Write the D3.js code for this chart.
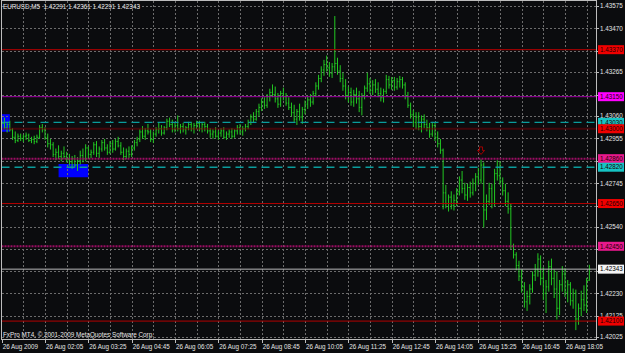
<!DOCTYPE html>
<html>
<head>
<meta charset="utf-8">
<script src="https://cdn.jsdelivr.net/npm/d3@7"></script>
<style>
  html, body { margin: 0; padding: 0; background: #0b0c0e; }
  svg { display: block; font-family: "Liberation Sans", Arial, sans-serif; }
</style>
</head>
<body>
<svg id="chart" width="625" height="353"></svg>
<script>
// MT4 style M5 bar chart, EURUSD 26 Aug 2009

const chartTitle = 'EURUSD,M5  1.42291 1.42361 1.42291 1.42343';
const copyright = 'FxPro MT4, \u00a9 2001-2009 MetaQuotes Software Corp.';

// time axis: label every 16 bars
const timeTickBars = [0, 16, 32, 48, 64, 80, 96, 112, 128, 144, 160, 176, 192, 208];
const timeLabels = ['26 Aug 2009', '26 Aug 02:05', '26 Aug 03:25', '26 Aug 04:45', '26 Aug 06:05',
  '26 Aug 07:25', '26 Aug 08:45', '26 Aug 10:05', '26 Aug 11:25', '26 Aug 12:45',
  '26 Aug 14:05', '26 Aug 15:25', '26 Aug 16:45', '26 Aug 18:05'];

// price axis ticks
const priceTicks = [1.43575, 1.43470, 1.43365, 1.43265, 1.43160, 1.43060, 1.42955, 1.42850,
  1.42745, 1.42640, 1.42540, 1.42435, 1.42335, 1.42230, 1.42125, 1.42025];

// bars (one per 5 minutes)
const opens = [
  1.43010,1.43025,1.43005,1.43020,1.42995,1.42960,1.42945,1.42965,1.42955,1.42965,
  1.42970,1.42945,1.42950,1.42940,1.42960,1.43005,1.42995,1.42960,1.42930,1.42925,
  1.42880,1.42890,1.42870,1.42885,1.42870,1.42855,1.42845,1.42860,1.42830,1.42850,
  1.42875,1.42860,1.42910,1.42880,1.42890,1.42925,1.42885,1.42905,1.42935,1.42910,
  1.42890,1.42930,1.42905,1.42940,1.42920,1.42890,1.42870,1.42895,1.42880,1.42910,
  1.42935,1.42950,1.42985,1.42965,1.42990,1.42985,1.42950,1.42975,1.42995,1.43000,
  1.42980,1.43005,1.43035,1.43020,1.42995,1.43015,1.43000,1.43010,1.42995,1.43005,
  1.43020,1.43000,1.43015,1.43025,1.43000,1.43020,1.43010,1.42990,1.42975,1.42985,
  1.42965,1.42980,1.42990,1.42960,1.42975,1.42985,1.42965,1.42990,1.43005,1.42985,
  1.43000,1.43010,1.43030,1.43055,1.43045,1.43080,1.43100,1.43125,1.43110,1.43150,
  1.43170,1.43160,1.43140,1.43115,1.43165,1.43150,1.43120,1.43100,1.43075,1.43045,
  1.43080,1.43055,1.43090,1.43115,1.43135,1.43125,1.43165,1.43200,1.43235,1.43275,
  1.43300,1.43285,1.43260,1.43290,1.43305,1.43270,1.43235,1.43200,1.43155,1.43170,
  1.43125,1.43160,1.43140,1.43100,1.43150,1.43190,1.43210,1.43180,1.43205,1.43185,
  1.43165,1.43145,1.43175,1.43230,1.43205,1.43225,1.43195,1.43220,1.43230,1.43205,
  1.43150,1.43110,1.43065,1.43030,1.43055,1.43010,1.43045,1.43020,1.43005,1.42975,
  1.43015,1.42960,1.42930,1.42900,1.42700,1.42650,1.42680,1.42640,1.42665,1.42705,
  1.42760,1.42720,1.42690,1.42725,1.42700,1.42745,1.42775,1.42760,1.42830,1.42620,
  1.42660,1.42720,1.42650,1.42790,1.42780,1.42755,1.42710,1.42660,1.42625,1.42450,
  1.42410,1.42360,1.42310,1.42260,1.42190,1.42215,1.42250,1.42315,1.42340,1.42390,
  1.42300,1.42230,1.42260,1.42355,1.42300,1.42250,1.42160,1.42270,1.42320,1.42235,
  1.42270,1.42195,1.42230,1.42110,1.42160,1.42200,1.42175,1.42291];
const highs = [
  1.43040,1.43050,1.43030,1.43035,1.43000,1.42985,1.42975,1.42975,1.42970,1.42980,
  1.42975,1.42960,1.42965,1.42970,1.43015,1.43020,1.43005,1.42975,1.42950,1.42935,
  1.42905,1.42920,1.42895,1.42915,1.42890,1.42880,1.42870,1.42875,1.42865,1.42895,
  1.42905,1.42925,1.42915,1.42900,1.42935,1.42940,1.42915,1.42945,1.42950,1.42925,
  1.42940,1.42945,1.42950,1.42960,1.42935,1.42910,1.42905,1.42915,1.42920,1.42945,
  1.42960,1.42995,1.43010,1.43000,1.43020,1.42995,1.42985,1.43005,1.43025,1.43015,
  1.43010,1.43045,1.43050,1.43040,1.43025,1.43060,1.43020,1.43025,1.43010,1.43030,
  1.43030,1.43025,1.43035,1.43035,1.43030,1.43030,1.43020,1.43000,1.42995,1.43005,
  1.42990,1.43000,1.43005,1.42985,1.42995,1.43000,1.42995,1.43015,1.43020,1.43010,
  1.43020,1.43040,1.43065,1.43075,1.43090,1.43115,1.43140,1.43145,1.43160,1.43185,
  1.43205,1.43195,1.43165,1.43175,1.43190,1.43165,1.43145,1.43120,1.43110,1.43090,
  1.43115,1.43100,1.43130,1.43150,1.43160,1.43175,1.43215,1.43250,1.43290,1.43320,
  1.43340,1.43310,1.43305,1.43525,1.43330,1.43295,1.43260,1.43230,1.43195,1.43190,
  1.43180,1.43190,1.43175,1.43165,1.43200,1.43260,1.43235,1.43225,1.43230,1.43215,
  1.43190,1.43185,1.43250,1.43245,1.43240,1.43240,1.43235,1.43245,1.43240,1.43215,
  1.43170,1.43120,1.43085,1.43075,1.43075,1.43060,1.43065,1.43040,1.43025,1.43030,
  1.43025,1.42985,1.42950,1.42905,1.42735,1.42690,1.42705,1.42690,1.42720,1.42775,
  1.42800,1.42745,1.42740,1.42750,1.42765,1.42790,1.42815,1.42855,1.42840,1.42690,
  1.42745,1.42740,1.42810,1.42850,1.42845,1.42770,1.42740,1.42700,1.42650,1.42460,
  1.42420,1.42380,1.42340,1.42280,1.42240,1.42270,1.42330,1.42365,1.42415,1.42405,
  1.42350,1.42290,1.42380,1.42390,1.42340,1.42330,1.42290,1.42355,1.42345,1.42290,
  1.42280,1.42250,1.42245,1.42180,1.42240,1.42265,1.42300,1.42361];
const lows = [
  1.42995,1.43000,1.42985,1.42990,1.42950,1.42935,1.42940,1.42945,1.42940,1.42950,
  1.42940,1.42935,1.42930,1.42935,1.42955,1.42985,1.42950,1.42915,1.42905,1.42870,
  1.42855,1.42860,1.42850,1.42860,1.42845,1.42830,1.42815,1.42820,1.42805,1.42835,
  1.42845,1.42850,1.42860,1.42865,1.42880,1.42870,1.42865,1.42895,1.42900,1.42880,
  1.42885,1.42890,1.42900,1.42915,1.42880,1.42855,1.42860,1.42865,1.42870,1.42900,
  1.42920,1.42940,1.42955,1.42950,1.42975,1.42940,1.42935,1.42965,1.42980,1.42970,
  1.42975,1.42995,1.43010,1.42985,1.42985,1.42990,1.42980,1.42985,1.42975,1.42995,
  1.42990,1.42980,1.43000,1.42990,1.42985,1.42990,1.42980,1.42960,1.42955,1.42960,
  1.42950,1.42965,1.42955,1.42950,1.42960,1.42955,1.42960,1.42975,1.42975,1.42970,
  1.42990,1.43000,1.43020,1.43030,1.43040,1.43060,1.43085,1.43095,1.43100,1.43130,
  1.43150,1.43125,1.43100,1.43105,1.43135,1.43110,1.43090,1.43060,1.43030,1.43020,
  1.43040,1.43025,1.43070,1.43095,1.43105,1.43115,1.43150,1.43185,1.43220,1.43250,
  1.43270,1.43245,1.43240,1.43270,1.43255,1.43220,1.43180,1.43140,1.43125,1.43110,
  1.43105,1.43120,1.43080,1.43065,1.43140,1.43175,1.43165,1.43160,1.43170,1.43150,
  1.43130,1.43125,1.43165,1.43190,1.43185,1.43180,1.43185,1.43195,1.43190,1.43140,
  1.43100,1.43050,1.43010,1.43000,1.42995,1.42985,1.43005,1.42990,1.42960,1.42965,
  1.42945,1.42915,1.42885,1.42625,1.42630,1.42615,1.42625,1.42620,1.42640,1.42690,
  1.42700,1.42670,1.42665,1.42680,1.42690,1.42710,1.42740,1.42745,1.42540,1.42575,
  1.42645,1.42630,1.42640,1.42760,1.42740,1.42690,1.42640,1.42605,1.42440,1.42395,
  1.42340,1.42290,1.42235,1.42165,1.42150,1.42180,1.42235,1.42290,1.42310,1.42270,
  1.42200,1.42140,1.42240,1.42270,1.42210,1.42110,1.42130,1.42240,1.42215,1.42190,
  1.42175,1.42160,1.42060,1.42085,1.42125,1.42150,1.42140,1.42291];
const closes = [
  1.43025,1.43005,1.43020,1.42995,1.42960,1.42945,1.42965,1.42955,1.42965,1.42970,
  1.42945,1.42950,1.42940,1.42960,1.43005,1.42995,1.42960,1.42930,1.42925,1.42880,
  1.42890,1.42870,1.42885,1.42870,1.42855,1.42845,1.42860,1.42830,1.42850,1.42875,
  1.42860,1.42910,1.42880,1.42890,1.42925,1.42885,1.42905,1.42935,1.42910,1.42890,
  1.42930,1.42905,1.42940,1.42920,1.42890,1.42870,1.42895,1.42880,1.42910,1.42935,
  1.42950,1.42985,1.42965,1.42990,1.42985,1.42950,1.42975,1.42995,1.43000,1.42980,
  1.43005,1.43035,1.43020,1.42995,1.43015,1.43000,1.43010,1.42995,1.43005,1.43020,
  1.43000,1.43015,1.43025,1.43000,1.43020,1.43010,1.42990,1.42975,1.42985,1.42965,
  1.42980,1.42990,1.42960,1.42975,1.42985,1.42965,1.42990,1.43005,1.42985,1.43000,
  1.43010,1.43030,1.43055,1.43045,1.43080,1.43100,1.43125,1.43110,1.43150,1.43170,
  1.43160,1.43140,1.43115,1.43165,1.43150,1.43120,1.43100,1.43075,1.43045,1.43080,
  1.43055,1.43090,1.43115,1.43135,1.43125,1.43165,1.43200,1.43235,1.43275,1.43300,
  1.43285,1.43260,1.43290,1.43305,1.43270,1.43235,1.43200,1.43155,1.43170,1.43125,
  1.43160,1.43140,1.43100,1.43150,1.43190,1.43210,1.43180,1.43205,1.43185,1.43165,
  1.43145,1.43175,1.43230,1.43205,1.43225,1.43195,1.43220,1.43230,1.43205,1.43150,
  1.43110,1.43065,1.43030,1.43055,1.43010,1.43045,1.43020,1.43005,1.42975,1.43015,
  1.42960,1.42930,1.42900,1.42700,1.42650,1.42680,1.42640,1.42665,1.42705,1.42760,
  1.42720,1.42690,1.42725,1.42700,1.42745,1.42775,1.42760,1.42830,1.42620,1.42660,
  1.42720,1.42650,1.42790,1.42780,1.42755,1.42710,1.42660,1.42625,1.42450,1.42410,
  1.42360,1.42310,1.42260,1.42190,1.42215,1.42250,1.42315,1.42340,1.42390,1.42300,
  1.42230,1.42260,1.42355,1.42300,1.42250,1.42160,1.42270,1.42320,1.42235,1.42270,
  1.42195,1.42230,1.42110,1.42160,1.42200,1.42175,1.42290,1.42343];

// horizontal line objects
const levelPrices = [1.43370, 1.43150, 1.43030, 1.43000, 1.42860, 1.42820, 1.42650, 1.42450, 1.42100];
const levelTypes = ['red', 'magenta', 'cyan', 'maroon', 'pink', 'cyan', 'red', 'pink', 'red'];
const bidPrice = 1.42343;

// rectangle objects: [start bar, end bar], [top price, bottom price]
const boxBars = [[-4, 3], [21, 32]];
const boxPrices = [[1.43068, 1.42986], [1.42835, 1.42773]];

// sell arrow object
const arrowBar = 177;
const arrowPrice = 1.42915;

const lineStyles = {
  red:     { stroke: '#b40000', width: 1, dash: null, box: '#f00000' },
  magenta: { stroke: '#a000a4', width: 1, dash: null, box: '#ff00ff' },
  cyan:    { stroke: '#0a9c9c', width: 1.4, dash: '8 5', box: '#16c4c4' },
  maroon:  { stroke: '#7a0008', width: 2, dash: '1 1', box: '#f00000' },
  pink:    { stroke: '#9a0c62', width: 2, dash: '2 1', box: '#e8198c' }
};

const W = 625, H = 353;
const plot = { left: 1.5, top: 0.5, right: 596.5, bottom: 339.5 };

const svg = d3.select('#chart');
svg.append('rect').attr('width', W).attr('height', H).attr('fill', '#0b0c0e');

const x = d3.scaleLinear().domain([0, 208]).range([1.7, 565]);
const y = d3.scaleLinear().domain([1.43470, 1.42230]).range([28.3, 293.3]);
const ySnap = (p) => Math.round(y(p)) + 0.5;

svg.append('clipPath').attr('id', 'plotClip').append('rect')
  .attr('x', plot.left).attr('y', plot.top)
  .attr('width', plot.right - plot.left).attr('height', plot.bottom - plot.top);

const g = svg.append('g').attr('clip-path', 'url(#plotClip)');

// rectangles (background objects)
g.append('g').selectAll('rect').data(boxBars).join('rect')
  .attr('x', (d) => x(d[0]))
  .attr('width', (d) => x(d[1]) - x(d[0]))
  .attr('y', (d, i) => y(boxPrices[i][0]))
  .attr('height', (d, i) => y(boxPrices[i][1]) - y(boxPrices[i][0]))
  .attr('fill', '#0000ff');

// grid
const grid = g.append('g').attr('stroke', '#6c6c6c').attr('stroke-dasharray', '2 2')
  .attr('shape-rendering', 'crispEdges');
grid.selectAll('line.h').data(priceTicks).join('line').attr('class', 'h')
  .attr('x1', plot.left).attr('x2', plot.right)
  .attr('y1', ySnap).attr('y2', ySnap);
grid.selectAll('line.v').data(d3.range(8, 217, 8)).join('line').attr('class', 'v')
  .attr('x1', (d) => Math.round(x(d)) + 0.5).attr('x2', (d) => Math.round(x(d)) + 0.5)
  .attr('y1', plot.top).attr('y2', plot.bottom);

// bars
const idx = d3.range(closes.length);
const bars = g.append('g').attr('stroke', '#22c822').attr('stroke-width', 1);
bars.selectAll('line.hl').data(idx).join('line').attr('class', 'hl')
  .attr('x1', (i) => x(i)).attr('x2', (i) => x(i))
  .attr('y1', (i) => y(highs[i]) - 0.5).attr('y2', (i) => y(lows[i]) + 0.5);
bars.selectAll('line.o').data(idx).join('line').attr('class', 'o')
  .attr('x1', (i) => x(i) - 1).attr('x2', (i) => x(i))
  .attr('y1', (i) => y(opens[i])).attr('y2', (i) => y(opens[i]));
bars.selectAll('line.c').data(idx).join('line').attr('class', 'c')
  .attr('x1', (i) => x(i)).attr('x2', (i) => x(i) + 1)
  .attr('y1', (i) => y(closes[i])).attr('y2', (i) => y(closes[i]));

// horizontal lines (left soft, like the reference screenshot)
g.append('g').selectAll('line').data(levelPrices).join('line')
  .attr('x1', plot.left).attr('x2', plot.right)
  .attr('y1', (d) => y(d)).attr('y2', (d) => y(d))
  .attr('stroke', (d, i) => lineStyles[levelTypes[i]].stroke)
  .attr('stroke-width', (d, i) => lineStyles[levelTypes[i]].width)
  .attr('stroke-dasharray', (d, i) => lineStyles[levelTypes[i]].dash);

// bid line
g.append('line')
  .attr('x1', plot.left).attr('x2', plot.right)
  .attr('y1', y(bidPrice)).attr('y2', y(bidPrice))
  .attr('stroke', '#b8b8b8').attr('stroke-width', 1);

// sell arrow
const ax = x(arrowBar), ay = y(arrowPrice);
g.append('path')
  .attr('d', `M${ax - 1.5},${ay} h3 v3.5 h2 l-3.5,4 l-3.5,-4 h2 z`)
  .attr('fill', 'none').attr('stroke', '#a00000').attr('stroke-width', 1);

// frame
svg.append('rect')
  .attr('x', plot.left).attr('y', plot.top)
  .attr('width', plot.right - plot.left).attr('height', plot.bottom - plot.top)
  .attr('fill', 'none').attr('stroke', '#bdbdbd').attr('stroke-width', 1)
  .attr('shape-rendering', 'crispEdges');

// price axis labels (ticks hidden behind object labels are not written, as in MT4)
const fmt = d3.format('.5f');
const tagged = levelPrices.concat([bidPrice]);
const shownTicks = priceTicks.filter((p) => tagged.every((q) => Math.abs(y(p) - y(q)) > 5));
const axisG = svg.append('g').attr('font-size', 6.3).attr('fill', '#e4e4e4');
axisG.selectAll('line').data(priceTicks).join('line')
  .attr('x1', plot.right).attr('x2', plot.right + 2.5)
  .attr('y1', ySnap).attr('y2', ySnap)
  .attr('stroke', '#bdbdbd').attr('shape-rendering', 'crispEdges');
axisG.selectAll('text').data(shownTicks).join('text')
  .attr('x', 600).attr('y', (d) => y(d)).attr('dy', '0.36em')
  .text((d) => fmt(d));

// level labels
const lblG = svg.append('g').attr('font-size', 6.3);
const lvl = lblG.selectAll('g').data(levelPrices).join('g')
  .attr('transform', (d) => `translate(598,${y(d)})`);
lvl.append('rect').attr('x', 0).attr('y', -4.5).attr('width', 26).attr('height', 9)
  .attr('fill', (d, i) => lineStyles[levelTypes[i]].box);
lvl.append('text').attr('x', 2).attr('dy', '0.36em').attr('fill', '#1a0000')
  .text((d) => fmt(d));
const bidG = lblG.append('g').attr('transform', `translate(598,${y(bidPrice)})`);
bidG.append('rect').attr('x', 0).attr('y', -4.5).attr('width', 26).attr('height', 9).attr('fill', '#f4f4f4');
bidG.append('text').attr('x', 2).attr('dy', '0.36em').attr('fill', '#000').text(fmt(bidPrice));

// time axis
const timeG = svg.append('g').attr('font-size', 6.3).attr('fill', '#e4e4e4');
timeG.selectAll('line').data(timeTickBars).join('line')
  .attr('x1', (d) => Math.round(x(d)) + 0.5).attr('x2', (d) => Math.round(x(d)) + 0.5)
  .attr('y1', plot.bottom).attr('y2', plot.bottom + 3)
  .attr('stroke', '#bdbdbd').attr('shape-rendering', 'crispEdges');
timeG.selectAll('text').data(timeTickBars).join('text')
  .attr('x', (d) => x(d) + 1).attr('y', 348.5)
  .text((d, i) => timeLabels[i]);

// title and copyright
svg.append('text').attr('x', 3).attr('y', 9).attr('font-size', 6.3).attr('fill', '#e8e8e8')
  .style('white-space', 'pre').text(chartTitle);
svg.append('text').attr('x', 3).attr('y', 337).attr('font-size', 6.3).attr('fill', '#e8e8e8')
  .text(copyright);
</script>
</body>
</html>
